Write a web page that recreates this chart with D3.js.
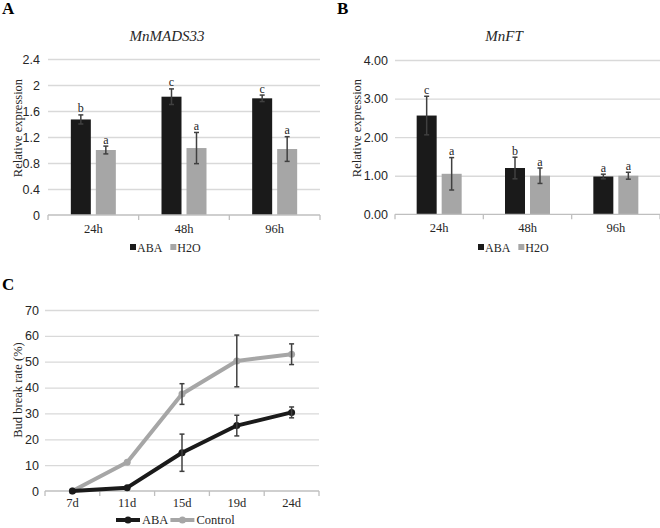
<!DOCTYPE html>
<html>
<head>
<meta charset="utf-8">
<script src="https://cdn.jsdelivr.net/npm/d3@7"></script>
<style>
  body { margin: 0; background: #fff; }
  svg { font-family: "Liberation Serif", "DejaVu Serif", serif; }
  .grid line { stroke: #d9d9d9; stroke-width: 1.3; }
  .grid path { display: none; }
  .grid text { font-size: 12.5px; fill: #262626; }
</style>
</head>
<body>
<div id="chart"></div>
<script>
// panel A / B data
const hours = ["24h", "48h", "96h"];
const barSeries = ["ABA", "H2O"];
const madsABA = [1.47, 1.82, 1.795];
const madsABAErr = [0.07, 0.12, 0.05];
const madsH2O = [1.0, 1.03, 1.015];
const madsH2OErr = [0.06, 0.24, 0.19];
const madsABALetters = ["b", "c", "c"];
const madsH2OLetters = ["a", "a", "a"];
const madsTicks = [0, 0.4, 0.8, 1.2, 1.6, 2, 2.4];
const madsTickLabels = ["0", "0.4", "0.8", "1.2", "1.6", "2", "2.4"];

const ftABA = [2.56, 1.2, 0.98];
const ftABAErr = [0.5, 0.28, 0.06];
const ftH2O = [1.05, 1.0, 1.0];
const ftH2OErr = [0.42, 0.2, 0.09];
const ftABALetters = ["c", "b", "a"];
const ftH2OLetters = ["a", "a", "a"];
const ftTicks = [0, 1, 2, 3, 4];
const ftTickLabels = ["0.00", "1.00", "2.00", "3.00", "4.00"];

// panel C data
const days = ["7d", "11d", "15d", "19d", "24d"];
const lineSeries = ["ABA", "Control"];
const budABA = [0, 1.3, 14.8, 25.3, 30.4];
const budABAErr = [0, 0, 7.2, 4, 2.1];
const budControl = [0, 11.1, 37.5, 50.3, 52.9];
const budControlErr = [0, 0, 4, 10, 4];
const budTicks = [0, 10, 20, 30, 40, 50, 60, 70];

const colors = { ABA: "#1a1a1a", H2O: "#a6a6a6", Control: "#a6a6a6" };
const errColor = "#404040";

const svg = d3.select("#chart").append("svg")
  .attr("width", 660).attr("height", 528);

function panelLetter(t, x, y) {
  svg.append("text").attr("x", x).attr("y", y)
    .style("font-size", "17px").style("font-weight", "bold").text(t);
}

function xAxisLine(g, x0, x1, y, bounds) {
  g.append("line").attr("x1", x0).attr("x2", x1).attr("y1", y).attr("y2", y)
    .attr("stroke", "#bfbfbf").attr("stroke-width", 1.3);
  bounds.forEach(b => g.append("line").attr("x1", b).attr("x2", b)
    .attr("y1", y).attr("y2", y + 5).attr("stroke", "#bfbfbf").attr("stroke-width", 1.3));
}

function barPanel(opt) {
  const g = svg.append("g");
  const x0 = d3.scaleBand().domain(hours).range([opt.left, opt.right]);
  const cw = x0.bandwidth();
  const x1 = d3.scaleBand().domain(barSeries)
    .range([cw / 2 - 22.5, cw / 2 + 22.5]).paddingInner(0.2);
  const y = d3.scaleLinear().domain([0, d3.max(opt.ticks)]).range([opt.bottom, opt.top]);

  g.append("g").attr("class", "grid")
    .attr("transform", `translate(${opt.left},0)`)
    .call(d3.axisLeft(y).tickValues(opt.ticks).tickSize(-(opt.right - opt.left))
      .tickPadding(opt.pad).tickFormat((d, i) => opt.tickLabels[i]))
    .call(s => s.selectAll("line").filter(d => d === 0).remove());

  const series = [
    { key: "ABA", vals: opt.aba, err: opt.abaErr, lets: opt.abaLet },
    { key: "H2O", vals: opt.h2o, err: opt.h2oErr, lets: opt.h2oLet }
  ];
  series.forEach(s => {
    hours.forEach((h, i) => {
      const bx = x0(h) + x1(s.key);
      const bw = x1.bandwidth();
      const cx = bx + bw / 2;
      g.append("rect").attr("x", bx).attr("width", bw)
        .attr("y", y(s.vals[i])).attr("height", opt.bottom - y(s.vals[i]))
        .attr("fill", colors[s.key]);
      const yt = y(s.vals[i] + s.err[i]), yb = y(s.vals[i] - s.err[i]);
      g.append("line").attr("x1", cx).attr("x2", cx).attr("y1", yt).attr("y2", yb)
        .attr("stroke", errColor).attr("stroke-width", 1.5);
      [yt, yb].forEach(yy => g.append("line").attr("x1", cx - 2.5).attr("x2", cx + 2.5)
        .attr("y1", yy).attr("y2", yy).attr("stroke", errColor).attr("stroke-width", 1.5));
      g.append("text").attr("x", cx).attr("y", yt - 2.5).attr("text-anchor", "middle")
        .style("font-size", "12px").attr("fill", "#262626").text(s.lets[i]);
    });
  });

  const bounds = hours.map(h => x0(h)).concat([opt.right]);
  xAxisLine(g, opt.left, opt.right, opt.bottom, bounds);
  g.selectAll(".xl").data(hours).enter().append("text")
    .attr("x", d => x0(d) + cw / 2).attr("y", opt.bottom + 18)
    .attr("text-anchor", "middle").style("font-size", "12.5px").attr("fill", "#262626")
    .text(d => d);

  g.append("text").attr("x", opt.titleX).attr("y", 41).attr("text-anchor", "middle")
    .style("font-size", "15px").style("font-style", "italic").attr("fill", "#262626")
    .text(opt.title);
  g.append("text").attr("transform", `translate(${opt.ylabX},128) rotate(-90)`)
    .attr("text-anchor", "middle").attr("dy", "0.35em")
    .style("font-size", "12.5px").attr("fill", "#262626").text("Relative expression");

  // legend
  let lx = opt.legX;
  barSeries.forEach((s, i) => {
    g.append("rect").attr("x", lx).attr("y", 244).attr("width", 6).attr("height", 6)
      .attr("fill", colors[s]);
    const t = g.append("text").attr("x", lx + 7).attr("y", 251.5)
      .style("font-size", "12px").attr("fill", "#262626").text(s);
    lx += 7 + t.node().getComputedTextLength() + 8;
  });
}

panelLetter("A", 2, 14);
barPanel({
  left: 48, right: 320, top: 59, bottom: 215, pad: 8,
  ticks: madsTicks, tickLabels: madsTickLabels,
  aba: madsABA, abaErr: madsABAErr, h2o: madsH2O, h2oErr: madsH2OErr,
  abaLet: madsABALetters, h2oLet: madsH2OLetters,
  title: "MnMADS33", titleX: 167, ylabX: 18, legX: 130
});

panelLetter("B", 337, 14);
barPanel({
  left: 395, right: 660, top: 60, bottom: 214.3, pad: 7,
  ticks: ftTicks, tickLabels: ftTickLabels,
  aba: ftABA, abaErr: ftABAErr, h2o: ftH2O, h2oErr: ftH2OErr,
  abaLet: ftABALetters, h2oLet: ftH2OLetters,
  title: "MnFT", titleX: 504, ylabX: 357, legX: 478
});

// panel C
panelLetter("C", 2, 290);
(function () {
  const left = 45, right = 319, top = 310, bottom = 491;
  const g = svg.append("g");
  const x = d3.scalePoint().domain(days).range([left, right]).padding(0.5);
  const band = (right - left) / days.length;
  const y = d3.scaleLinear().domain([0, 70]).range([bottom, top]);

  g.append("g").attr("class", "grid")
    .attr("transform", `translate(${left},0)`)
    .call(d3.axisLeft(y).tickValues(budTicks).tickSize(-(right - left)).tickPadding(6))
    .call(s => s.selectAll("line").filter(d => d === 0).remove());

  const bounds = days.map(d => x(d) - band / 2).concat([right]);
  xAxisLine(g, left, right, bottom, bounds);
  g.selectAll(".xl").data(days).enter().append("text")
    .attr("x", d => x(d)).attr("y", bottom + 16)
    .attr("text-anchor", "middle").style("font-size", "12.5px").attr("fill", "#262626")
    .text(d => d);

  g.append("text").attr("transform", `translate(18,390) rotate(-90)`)
    .attr("text-anchor", "middle").attr("dy", "0.35em")
    .style("font-size", "12.5px").attr("fill", "#262626").text("Bud break rate (%)");

  const series = [
    { key: "Control", vals: budControl, err: budControlErr },
    { key: "ABA", vals: budABA, err: budABAErr }
  ];
  const line = d3.line().x((d, i) => x(days[i])).y(d => y(d));
  series.forEach(s => {
    g.append("path").datum(s.vals).attr("d", line)
      .attr("fill", "none").attr("stroke", colors[s.key]).attr("stroke-width", 4)
      .attr("stroke-linejoin", "round");
    g.selectAll(null).data(s.vals).enter().append("circle")
      .attr("cx", (d, i) => x(days[i])).attr("cy", d => y(d)).attr("r", 3.5)
      .attr("fill", colors[s.key]);
  });
  series.forEach(s => {
    s.vals.forEach((v, i) => {
      if (!s.err[i]) return;
      const cx = x(days[i]);
      const yt = y(v + s.err[i]), yb = y(v - s.err[i]);
      g.append("line").attr("x1", cx).attr("x2", cx).attr("y1", yt).attr("y2", yb)
        .attr("stroke", errColor).attr("stroke-width", 1.5);
      [yt, yb].forEach(yy => g.append("line").attr("x1", cx - 2.5).attr("x2", cx + 2.5)
        .attr("y1", yy).attr("y2", yy).attr("stroke", errColor).attr("stroke-width", 1.5));
    });
  });

  // legend
  let lx = 116;
  lineSeries.forEach(s => {
    g.append("line").attr("x1", lx).attr("x2", lx + 24).attr("y1", 520).attr("y2", 520)
      .attr("stroke", colors[s]).attr("stroke-width", 4);
    g.append("circle").attr("cx", lx + 12).attr("cy", 520).attr("r", 3.5).attr("fill", colors[s]);
    const t = g.append("text").attr("x", lx + 26).attr("y", 524)
      .style("font-size", "12.5px").attr("fill", "#262626").text(s);
    lx += 26 + t.node().getComputedTextLength() + 2;
  });
})();
</script>
</body>
</html>
